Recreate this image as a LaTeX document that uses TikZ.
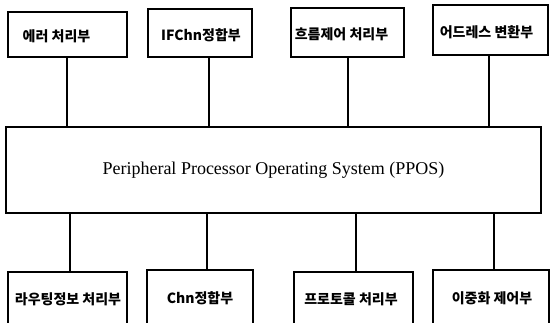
\documentclass[tikz,border=0pt]{standalone}
\usepackage{fontspec}
\setmainfont{Liberation Serif}
\newfontfamily\kr{Noto Sans CJK KR}
\begin{document}
\begin{tikzpicture}[x=1pt,y=-1pt,
  box/.style={draw, line width=2pt, inner sep=0pt},
  txt/.style={font=\kr\bfseries\fontsize{14}{16}\selectfont},
  link/.style={line width=2.4pt}]
\useasboundingbox (0,0) rectangle (552,322);
% top boxes
\node[box, minimum width=119pt, minimum height=45pt,
      label={[txt, xshift=-11pt, yshift=-2pt]center:에러 처리부}] (t1) at (67.5,34.5) {};
\node[box, minimum width=104pt, minimum height=48pt,
      label={[txt, xshift=1pt, yshift=-2pt]center:IFChn정합부}] (t2) at (200,33) {};
\node[box, minimum width=113pt, minimum height=49pt,
      label={[txt, xshift=-6pt, yshift=-2pt]center:흐름제어 처리부}] (t3) at (347.5,32.5) {};
\node[box, minimum width=115pt, minimum height=50pt,
      label={[txt, xshift=-4pt, yshift=-2pt]center:어드레스 변환부}] (t4) at (490.5,30) {};
% central box
\node[draw, line width=2pt, minimum width=535pt, minimum height=86pt, inner sep=0pt,
      font=\fontsize{18}{20}\selectfont] (p) at (273.5,170) {Peripheral Processor Operating System (PPOS)};
% bottom boxes (their lower edges fall just below the picture)
\node[box, minimum width=119pt, minimum height=58pt,
      label={[txt, xshift=0.5pt, yshift=2pt]center:라우팅정보 처리부}] (b1) at (67.5,301) {};
\node[box, minimum width=106pt, minimum height=60pt,
      label={[txt, xshift=0pt, yshift=2pt]center:Chn정합부}] (b2) at (200,300) {};
\node[box, minimum width=119pt, minimum height=58pt,
      label={[txt, xshift=-2.5pt, yshift=2pt]center:프로토콜 처리부}] (b3) at (353.5,301) {};
\node[box, minimum width=116pt, minimum height=60pt,
      label={[txt, xshift=1pt, yshift=2pt]center:이중화 제어부}] (b4) at (491,300) {};
% connectors
\draw[link] ([xshift=-0.5pt]t1.south) -- ([xshift=-0.5pt]t1.south |- p.north);
\draw[link] ([xshift=9pt]t2.south) -- ([xshift=9pt]t2.south |- p.north);
\draw[link] ([xshift=0.5pt]t3.south) -- ([xshift=0.5pt]t3.south |- p.north);
\draw[link] ([xshift=-1.5pt]t4.south) -- ([xshift=-1.5pt]t4.south |- p.north);
\draw[link] ([xshift=2.5pt]b1.north) -- ([xshift=2.5pt]b1.north |- p.south);
\draw[link] ([xshift=7pt]b2.north) -- ([xshift=7pt]b2.north |- p.south);
\draw[link] ([xshift=2.5pt]b3.north) -- ([xshift=2.5pt]b3.north |- p.south);
\draw[link] ([xshift=3pt]b4.north) -- ([xshift=3pt]b4.north |- p.south);
\end{tikzpicture}
\end{document}
